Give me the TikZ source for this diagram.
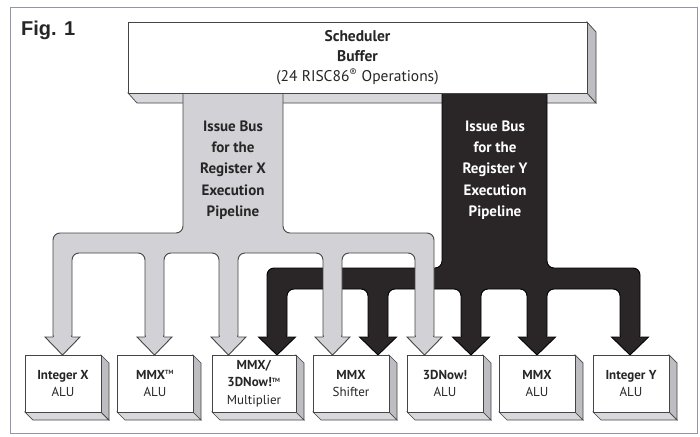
\documentclass[tikz,border=0pt]{standalone}
\usepackage{fontspec}
\setmainfont{PT Sans}
\newfontfamily\figfont{Liberation Sans}
\definecolor{lightbus}{HTML}{D2D2D6}
\definecolor{darkbus}{HTML}{2A2628}
\definecolor{busline}{HTML}{454545}
\definecolor{txt}{HTML}{262626}
\definecolor{sideface}{HTML}{BDBDC2}
\definecolor{bottomface}{HTML}{D8D8DC}
\definecolor{framec}{HTML}{9A92A6}
\newcommand\tmark{\textsuperscript{\fontsize{6}{6}\selectfont TM}}
\tikzset{
  faceline/.style={draw=busline,line width=.7pt},
  unitface/.style={faceline,fill=white,inner sep=0pt,minimum height=57pt,align=center,
    text=txt,font=\fontsize{13}{17.5}\selectfont},
  coltext/.style={align=center,font=\bfseries\fontsize{15}{21.3}\selectfont},
  lightpath/.style={fill=lightbus,draw=busline,line width=.9pt},
  darkpath/.style={fill=darkbus,draw=black,line width=.9pt},
}
% #1 name, #2 left x, #3 width, #4 text
\newcommand\unitblock[4]{%
  \path[faceline,fill=bottomface] (#2,412) -- (#2+#3,412) -- (#2+#3+8,420) -- (#2+8,420) -- cycle;
  \path[faceline,fill=sideface] (#2+#3,355) -- (#2+#3+8,363) -- (#2+#3+8,420) -- (#2+#3,412) -- cycle;
  \node[unitface,minimum width=#3pt] (#1) at (#2+#3/2,383.5) {#4};
}
% #1 centre x, #2 shaft half width, #3 head half width, #4 style
\newcommand\arrowhead[4]{%
  \path[#4] (#1-#2,337) -- (#1-#3,337) -- (#1,355) -- (#1+#3,337) -- (#1+#2,337);
}
\begin{document}
\begin{tikzpicture}[x=1pt,y=-1pt]
\useasboundingbox (0,0) rectangle (700,436);
\fill[white] (0,0) rectangle (700,436);
\draw[framec,line width=1pt] (10,8) rectangle (697,433);
\node[anchor=west,text=txt,font=\figfont\bfseries\fontsize{20}{22}\selectfont,inner sep=0pt] (fig) at (21,30) {Fig. 1};

% scheduler bevel
\path[faceline,fill=bottomface] (128,93) -- (587,93) -- (596,103) -- (137,103) -- cycle;
\path[faceline,fill=sideface] (587,22) -- (596,32) -- (596,103) -- (587,93) -- cycle;

% dark bus (register Y)
\path[darkpath,rounded corners=7pt]
  (442,80) -- (442,268) -- (267,268) -- (267,342) -- (287,342) -- (287,289)
  -- (368,289) -- (368,342) -- (388,342) -- (388,289)
  -- (461,289) -- (461,342) -- (481,342) -- (481,289)
  -- (527,289) -- (527,342) -- (547,342) -- (547,289)
  -- (620,289) -- (620,342) -- (640,342) -- (640,268)
  -- (547,268) -- (547,80) -- cycle;
\foreach \c in {277,378,471,537,630}{\arrowhead{\c}{10}{18.5}{darkpath}}

% light bus (register X)
\path[lightpath,rounded corners=7pt]
  (183,80) -- (183,233) -- (53,233) -- (53,342) -- (72,342) -- (72,253)
  -- (145,253) -- (145,342) -- (164,342) -- (164,253)
  -- (219,253) -- (219,342) -- (238,342) -- (238,253)
  -- (323,253) -- (323,342) -- (342,342) -- (342,253)
  -- (415,253) -- (415,342) -- (434,342) -- (434,233)
  -- (283,233) -- (283,80) -- cycle;
\foreach \c in {62.5,154.5,228.5,332.5,424.5}{\arrowhead{\c}{9.5}{17.5}{lightpath}}

% scheduler front
\node[faceline,fill=white,minimum width=459pt,minimum height=71pt,inner sep=0pt,
  align=center,text=txt,font=\fontsize{15.5}{20}\selectfont] (sched) at (357.5,57.5)
  {\textbf{Scheduler}\\\textbf{Buffer}\\(24 RISC86\textsuperscript{®} Operations)};

% bus labels
\node[coltext,text=txt] (busx) at (233,170) {Issue Bus\\for the\\Register X\\Execution\\Pipeline};
\node[coltext,text=white] (busy) at (495,170) {Issue Bus\\for the\\Register Y\\Execution\\Pipeline};

% execution units
\unitblock{intx}{25}{76}{\textbf{Integer X}\\ALU}
\unitblock{mmxa}{117}{76}{\textbf{MMX\tmark}\\ALU}
\unitblock{mult}{212}{84}{\textbf{MMX/}\\\textbf{3DNow!\tmark}\\Multiplier}
\unitblock{shift}{313}{76}{\textbf{MMX}\\Shifter}
\unitblock{tdn}{407}{76}{\textbf{3DNow!}\\ALU}
\unitblock{mmxb}{499}{76}{\textbf{MMX}\\ALU}
\unitblock{inty}{593}{76}{\textbf{Integer Y}\\ALU}
\end{tikzpicture}
\end{document}
